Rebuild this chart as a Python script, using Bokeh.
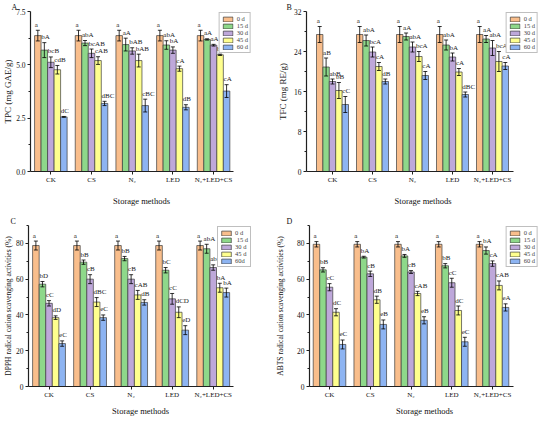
from bokeh.plotting import figure
from bokeh.models import (ColumnDataSource, Whisker, TeeHead, Legend, LegendItem,
                          FixedTicker, Range1d, Title)
from bokeh.layouts import row, column
from bokeh.embed import file_html
from bokeh.resources import INLINE
from bokeh.core.properties import value

FONT = "Liberation Serif"

methods = ["CK", "CS", "N\u2082", "LED", "N\u2082+LED+CS"]
days = ["0 d", "15 d", "30 d", "45 d", "60 d"]
days_c = ["0 d", " 15 d", "30 d", "45 d", "60d"]
colors = ["#F9BE8C", "#8ED88A", "#BEA8DA", "#FFFF8E", "#8DB4F2"]

# rows = storage days (0,15,30,45,60 d), columns = methods
tpc_mean = [
    [6.37, 6.37, 6.37, 6.37, 6.37],
    [5.69, 6.02, 5.95, 5.93, 6.19],
    [5.12, 5.54, 5.65, 5.69, 5.92],
    [4.77, 5.20, 5.20, 4.82, 5.47],
    [2.56, 3.19, 3.09, 3.01, 3.77],
]
tpc_sd = [
    [0.25, 0.25, 0.25, 0.25, 0.25],
    [0.35, 0.12, 0.30, 0.20, 0.03],
    [0.25, 0.20, 0.15, 0.15, 0.04],
    [0.20, 0.18, 0.30, 0.12, 0.03],
    [0.02, 0.10, 0.30, 0.12, 0.30],
]
tpc_lab = [
    ["a", "a", "a", "a", "a"],
    ["bA", "abA", "aA", "abA", "aA"],
    ["bcB", "bcAB", "bAB", "bA", "aA"],
    ["cdB", "cAB", "bAB", "cA", "bA"],
    ["dC", "dBC", "cBC", "dB", "cA"],
]

tfc_mean = [
    [27.4, 27.4, 27.4, 27.4, 27.4],
    [20.9, 26.2, 27.0, 25.3, 26.5],
    [18.0, 23.9, 24.9, 22.9, 24.7],
    [16.2, 21.0, 23.0, 19.9, 22.0],
    [13.4, 18.0, 19.2, 15.4, 21.1],
]
tfc_sd = [
    [1.6, 1.6, 1.6, 1.6, 1.6],
    [1.8, 1.1, 0.7, 1.0, 0.7],
    [0.5, 1.0, 1.0, 0.8, 1.5],
    [1.6, 0.8, 1.0, 0.7, 2.0],
    [1.6, 0.5, 0.8, 0.5, 0.7],
]
tfc_lab = [
    ["a", "a", "a", "a", "a"],
    ["aB", "abA", "aA", "abA", "aA"],
    ["abB", "bcA", "abA", "bA", "abA"],
    ["bB", "cA", "bcA", "cA", "bcA"],
    ["cC", "dB", "cA", "dBC", "cA"],
]

dpph_mean = [
    [78.8, 78.8, 78.8, 78.8, 78.8],
    [57.2, 69.5, 71.5, 65.0, 77.0],
    [46.5, 60.0, 60.0, 49.0, 66.5],
    [38.5, 47.2, 51.2, 41.5, 55.2],
    [24.0, 38.5, 47.0, 31.5, 52.5],
]
dpph_sd = [
    [2.5, 2.5, 2.5, 2.5, 2.5],
    [1.5, 1.2, 1.2, 1.5, 2.5],
    [1.5, 2.5, 2.5, 3.0, 1.5],
    [1.0, 2.5, 2.5, 3.0, 2.5],
    [1.5, 1.5, 1.5, 2.5, 2.5],
]
dpph_lab = [
    ["a", "a", "a", "a", "a"],
    ["bD", "bB", "bB", "bC", "abA"],
    ["cC", "cB", "cB", "cC", "abA"],
    ["dD", "dBC", "cAB", "dCD", "bA"],
    ["eC", "eC", "dB", "eD", "bA"],
]

abts_mean = [
    [79.5, 79.5, 79.5, 79.5, 79.5],
    [65.2, 72.3, 73.0, 67.5, 76.0],
    [55.5, 63.0, 64.0, 58.0, 68.7],
    [41.5, 48.5, 52.0, 42.5, 56.5],
    [23.5, 34.7, 37.0, 25.0, 44.2],
]
abts_sd = [
    [1.5, 1.5, 1.5, 1.5, 1.5],
    [1.2, 0.5, 0.8, 1.2, 2.0],
    [2.0, 1.5, 0.8, 2.5, 1.5],
    [2.0, 2.0, 1.2, 2.5, 2.5],
    [2.5, 2.5, 2.0, 2.5, 2.0],
]
abts_lab = [
    ["a", "a", "a", "a", "a"],
    ["bB", "bA", "bA", "bB", "bA"],
    ["cC", "cB", "cB", "cC", "cA"],
    ["dC", "dB", "cAB", "dC", "cAB"],
    ["eC", "eB", "eB", "eC", "eA"],
]

BW = 0.16


def make_panel(letter, letter_off, ytitle, ytitle_size, ytitle_standoff,
               mean, sd, labels, ymax, yticks, yminor, yfmt, xr, xbounds,
               w, h, bl, br, bt, bb, leg_labels, xtitle_standoff):
    p = figure(width=w, height=h, x_range=Range1d(*xr), y_range=Range1d(0, ymax),
               output_backend="svg", toolbar_location=None,
               min_border_left=bl, min_border_right=br, min_border_top=bt,
               min_border_bottom=bb)
    p.outline_line_color = None
    p.grid.visible = False

    renderers = []
    for j in range(5):
        xs = [i + 1 + (j - 2) * BW for i in range(5)]
        src = ColumnDataSource(dict(
            x=xs, top=mean[j],
            upper=[m + s for m, s in zip(mean[j], sd[j])],
            lower=[m - s for m, s in zip(mean[j], sd[j])],
            lx=[x - BW / 2 + 0.005 for x in xs],
            lab=labels[j]))
        r = p.vbar(x="x", top="top", width=BW, bottom=0, source=src,
                   fill_color=colors[j], line_color="#3c3c3c", line_width=0.7)
        renderers.append(r)
        wk = Whisker(source=src, base="x", upper="upper", lower="lower",
                     line_color="black", line_width=0.8, level="overlay",
                     upper_head=TeeHead(size=4, line_color="black", line_width=0.8),
                     lower_head=TeeHead(size=4, line_color="black", line_width=0.8))
        p.add_layout(wk)
        p.text(x="lx", y="upper", text="lab", source=src,
               text_font=value(FONT), text_font_size="7px", text_color="#1a1a1a",
               text_align="left", text_baseline="bottom", y_offset=-1.5)

    # x axis
    p.xaxis.ticker = FixedTicker(ticks=[1, 2, 3, 4, 5])
    p.xaxis.major_label_overrides = {i + 1: m for i, m in enumerate(methods)}
    p.xaxis.bounds = xbounds
    p.xaxis.axis_label = "Storage methods"
    p.xaxis.axis_label_text_font_size = "8.5px"
    p.xaxis.axis_label_standoff = xtitle_standoff
    p.xaxis.major_label_text_font_size = "7px"
    p.xaxis.major_label_standoff = 1
    p.xaxis.major_tick_out = 3
    p.xaxis.major_tick_in = 0
    p.xaxis.minor_tick_line_color = None

    # y axis
    p.yaxis.ticker = FixedTicker(ticks=yticks, minor_ticks=yminor)
    p.yaxis.major_label_overrides = {t: yfmt.format(t) for t in yticks}
    p.yaxis.axis_label = ytitle
    p.yaxis.axis_label_text_font_size = ytitle_size
    p.yaxis.axis_label_standoff = ytitle_standoff
    p.yaxis.major_label_text_font_size = "7.5px"
    p.yaxis.major_label_standoff = 2
    p.yaxis.major_tick_out = 3
    p.yaxis.major_tick_in = 0
    p.yaxis.minor_tick_out = 2
    p.yaxis.minor_tick_in = 0
    p.yaxis.minor_tick_line_color = "#202020"

    for ax in (p.xaxis, p.yaxis):
        ax.axis_line_color = "#202020"
        ax.axis_line_width = 1.2
        ax.major_tick_line_color = "#202020"
        ax.major_label_text_color = "#111111"
        ax.major_label_text_font = FONT
        ax.axis_label_text_font = FONT
        ax.axis_label_text_font_style = "normal"
        ax.axis_label_text_color = "#111111"

    p.add_layout(Title(text=letter, align="left", offset=-letter_off, standoff=0,
                       text_font=FONT, text_font_size="8px", text_font_style="normal",
                       text_color="#111111"), "above")

    legend = Legend(items=[LegendItem(label=leg_labels[j], renderers=[renderers[j]])
                           for j in range(5)],
                    location="top_right", label_text_font=FONT,
                    label_text_font_size="6.5px",
                    glyph_width=12, glyph_height=6, label_height=6, label_width=8,
                    label_standoff=3, spacing=0, padding=2, margin=1,
                    border_line_color="#808080", border_line_width=1.5,
                    background_fill_color="white", background_fill_alpha=1.0)
    p.add_layout(legend)
    return p


pA = make_panel("A", 19, "TPC (mg GAE/g)", "9px", 0, tpc_mean, tpc_sd, tpc_lab,
                7.5, [0, 2.5, 5.0, 7.5], [1.25, 3.75, 6.25], "{:.1f}",
                (0.5, 5.957), (0.5, 5.5),
                272, 208, 25, 20, 0, 37, days, 9)
pB = make_panel("B", 20, "TFC (mg RE/g)", "9px", 3, tfc_mean, tfc_sd, tfc_lab,
                32, [0, 8, 16, 24, 32], [4, 12, 20, 28], "{:.0f}",
                (0.35, 6.175), (0.35, 5.52),
                268, 208, 34, 1, 0, 37, days, 9)
pC = make_panel("C", 18, "DPPH radical cation scavenging activities (%)", "7.5px", 0,
                dpph_mean, dpph_sd, dpph_lab,
                90, [0, 20, 40, 60, 80], [10, 30, 50, 70, 90], "{:.0f}",
                (0.5, 5.957), (0.5, 5.5),
                272, 210, 25, 20, 17, 29, days_c, 4)
pD = make_panel("D", 23, "ABTS radical cation scavenging activities (%)", "7.5px", 9,
                abts_mean, abts_sd, abts_lab,
                90, [0, 20, 40, 60, 80], [10, 30, 50, 70, 90], "{:.0f}",
                (0.509, 6.153), (0.509, 5.52),
                268, 210, 37, 1, 17, 29, days, 4)

layout = column(row(pA, pB), row(pC, pD))
open("out.html", "w").write(file_html(layout, INLINE))
